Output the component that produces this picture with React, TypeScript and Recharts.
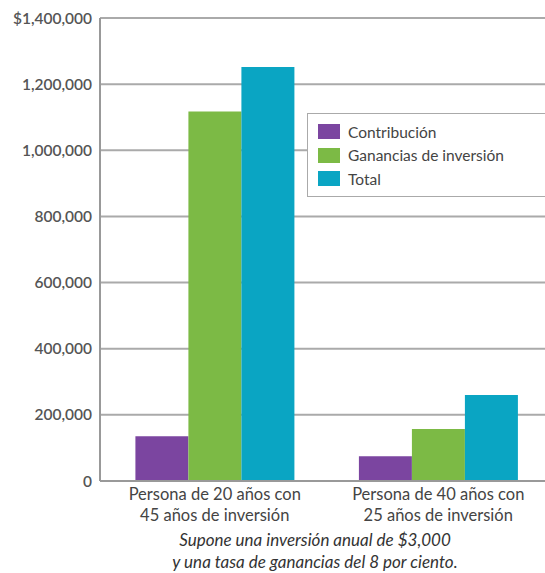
import React from "react";
import { Bar, BarChart, CartesianGrid, XAxis, YAxis } from "recharts";

const categories = [
  "Persona de 20 años con\n45 años de inversión",
  "Persona de 40 años con\n25 años de inversión",
];
const contribucion = [135000, 75000];
const ganancias = [1117000, 157000];
const total = [1252000, 260000];
const yTicks = [0, 200000, 400000, 600000, 800000, 1000000, 1200000, 1400000];

const seriesNames = ["Contribución", "Ganancias de inversión", "Total"];
const seriesColors = ["#7b45a0", "#7cba45", "#0aa5c3"];

const data = categories.map((name, i) => ({
  name,
  contribucion: contribucion[i],
  ganancias: ganancias[i],
  total: total[i],
}));

const font = "Lato, 'Open Sans', sans-serif";

const formatY = (v: number) => {
  if (v === 0) return "0";
  const s = v.toLocaleString("en-US");
  return v === 1400000 ? `$${s}` : s;
};

const XTick = (props: any) => {
  const { x, y, payload } = props;
  const lines = String(payload.value).split("\n");
  return (
    <text x={x} y={y} textAnchor="middle" fill="#444" fontSize={16.5} fontFamily={font}>
      {lines.map((l, i) => (
        <tspan key={i} x={x} dy={i === 0 ? 11 : 21}>
          {l}
        </tspan>
      ))}
    </text>
  );
};

export default function App() {
  return (
    <div style={{ position: "absolute", left: 0, top: 0, width: 545, height: 573, overflow: "hidden", background: "#fff" }}>
      <BarChart
        width={550}
        height={573}
        data={data}
        margin={{ top: 18, right: 0, left: 0, bottom: 0 }}
        barCategoryGap="14.5%"
        barGap={0}
      >
        <CartesianGrid vertical={false} stroke="#aaa" strokeWidth={2} />
        <XAxis
          dataKey="name"
          height={92}
          padding={{ left: 3, right: 0 }}
          tick={<XTick />}
          tickLine={false}
          axisLine={{ stroke: "#999", strokeWidth: 2 }}
          interval={0}
        />
        <YAxis
          width={100}
          domain={[0, 1400000]}
          ticks={yTicks}
          tickFormatter={formatY}
          tickLine={false}
          axisLine={{ stroke: "#999", strokeWidth: 2 }}
          tick={{ fill: "#555", fontSize: 15.5, fontFamily: font, fontWeight: 600 }}
          tickMargin={2}
          interval={0}
        />
        <Bar dataKey="contribucion" name={seriesNames[0]} fill={seriesColors[0]} isAnimationActive={false} />
        <Bar dataKey="ganancias" name={seriesNames[1]} fill={seriesColors[1]} isAnimationActive={false} />
        <Bar dataKey="total" name={seriesNames[2]} fill={seriesColors[2]} isAnimationActive={false} />
      </BarChart>
      <div
        style={{
          position: "absolute",
          top: 113,
          left: 307,
          width: 250,
          height: 84,
          border: "1px solid #aaa",
          background: "#fff",
          padding: "6px 10px",
          fontFamily: font,
          fontSize: 15.5,
          color: "#444",
          boxSizing: "border-box",
        }}
      >
        {seriesNames.map((n, i) => (
          <div key={n} style={{ display: "flex", alignItems: "center", height: 23.5 }}>
            <span
              style={{
                display: "inline-block",
                width: 22,
                height: 15,
                background: seriesColors[i],
                marginRight: 8,
              }}
            />
            {n}
          </div>
        ))}
      </div>
      <div
        style={{
          position: "absolute",
          left: 100,
          width: 430,
          top: 529,
          textAlign: "center",
          fontFamily: font,
          fontStyle: "italic",
          fontSize: 17,
          lineHeight: "22px",
          color: "#333",
        }}
      >
        Supone una inversión anual de $3,000
        <br />y una tasa de ganancias del 8 por ciento.
      </div>
    </div>
  );
}
